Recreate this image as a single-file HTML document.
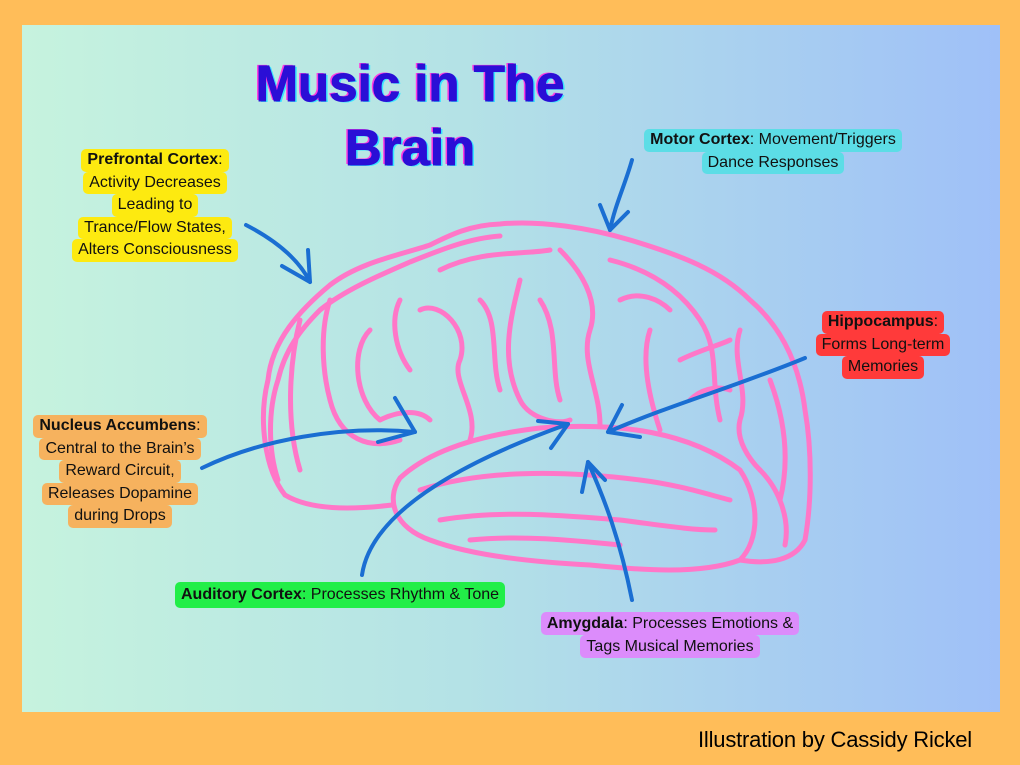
<!DOCTYPE html>
<html><head><meta charset="utf-8"><style>
html,body{margin:0;padding:0}
body{width:1020px;height:765px;background:#ffbd59;position:relative;overflow:hidden;font-family:"Liberation Sans",sans-serif}
#panel{position:absolute;left:22px;top:25px;width:978px;height:687px;background:linear-gradient(90deg,#c6f3de 0%,#b4e2e6 45%,#9fc0f8 100%)}
.t{position:absolute;font-weight:bold;font-size:51px;color:#2a0fd6;text-shadow:-2px -1px 0 #ff3de0,2px 1px 0 #39e6ff;text-align:center;line-height:64px;-webkit-text-stroke:1px #2a0fd6}
.lab{position:absolute;text-align:center;font-size:16px;line-height:22.5px;color:#111}
.lab span{display:inline-block;padding:0 6px;border-radius:5px}
.cr{position:absolute;left:698px;top:727px;font-size:22px;color:#000;letter-spacing:-0.2px}
</style></head><body>
<div id="panel"></div>
<div class="t" style="left:220px;top:52px;width:380px">Music in The<br>Brain</div>
<svg width="1020" height="765" style="position:absolute;left:0;top:0">
<g fill="none" stroke="#ff77c8" stroke-width="5" stroke-linecap="round" stroke-linejoin="round">
<path d="M285,495 C265,470 258,420 268,380 C272,340 300,310 330,285 C360,262 400,255 430,245 C450,235 470,225 500,224 C540,220 590,228 630,240 C680,255 720,270 750,300 C785,330 800,370 805,410 C812,450 812,500 805,540 C795,560 770,565 740,560"/>
<path d="M278,480 C268,450 268,410 278,380 C285,350 300,330 320,310 C345,290 380,275 410,262 C440,250 470,238 500,236"/>
<path d="M400,478 C430,450 480,435 540,428 C620,422 690,432 740,470 C760,500 760,540 740,560 C700,575 640,570 590,565 C530,562 470,555 430,540 C395,528 385,500 400,478 Z"/>
<path d="M285,495 C310,510 350,510 392,505"/>
<path d="M300,320 C290,360 285,420 300,470"/>
<path d="M330,300 C320,330 322,370 330,400 C340,440 370,450 400,440"/>
<path d="M370,330 C350,350 355,400 380,420 C400,410 420,410 430,420"/>
<path d="M420,310 C440,300 470,330 460,360 C450,380 480,410 470,440"/>
<path d="M440,270 C480,250 520,255 550,250"/>
<path d="M400,300 C390,320 395,350 410,370"/>
<path d="M520,280 C510,320 500,360 520,400 C530,420 560,425 570,420"/>
<path d="M480,300 C500,320 490,360 500,390"/>
<path d="M560,250 C580,270 600,300 590,330 C580,360 600,390 600,425"/>
<path d="M540,300 C560,330 550,370 560,400"/>
<path d="M610,260 C650,270 680,290 700,320 C720,350 710,380 720,420"/>
<path d="M650,330 C640,360 650,400 660,430"/>
<path d="M620,300 C640,290 660,300 670,310"/>
<path d="M740,330 C730,360 750,390 740,420 C735,440 750,460 760,470"/>
<path d="M680,360 C700,350 720,345 730,340"/>
<path d="M690,400 C700,390 715,385 730,390"/>
<path d="M420,490 C480,470 560,470 640,480 C680,485 710,495 730,500"/>
<path d="M440,520 C500,510 560,515 620,520 C660,525 690,530 715,530"/>
<path d="M470,540 C520,535 570,540 620,545"/>
<path d="M760,470 C780,490 790,520 785,545"/>
<path d="M770,380 C785,420 790,460 780,500"/>
</g>
<g fill="none" stroke="#1a6ed2" stroke-width="4" stroke-linecap="round" stroke-linejoin="round">
<path d="M246,225 C275,240 298,258 310,282"/><path d="M282,266 L310,282 L308,250"/>
<path d="M632,160 C625,185 615,205 610,230"/><path d="M600,205 L610,230 L628,212"/>
<path d="M805,358 C740,385 670,405 608,432"/><path d="M622,405 L608,432 L640,437"/>
<path d="M202,468 C260,440 340,425 415,432"/><path d="M395,398 L415,432 L378,442"/>
<path d="M362,575 C370,520 440,470 568,424"/><path d="M538,421 L568,424 L551,448"/>
<path d="M632,600 C620,540 605,500 588,462"/><path d="M582,492 L588,462 L605,480"/>
</g>
</svg>
<div class="lab" style="left:45px;top:149px;width:220px">
<span style="background:#fdea10"><b>Prefrontal Cortex</b>:</span><br><span style="background:#fdea10">Activity Decreases</span><br><span style="background:#fdea10">Leading to</span><br><span style="background:#fdea10">Trance/Flow States,</span><br><span style="background:#fdea10">Alters Consciousness</span></div>
<div class="lab" style="left:583px;top:129px;width:380px">
<span style="background:#5cdde6"><b>Motor Cortex</b>: Movement/Triggers</span><br><span style="background:#5cdde6">Dance Responses</span></div>
<div class="lab" style="left:788px;top:311px;width:190px">
<span style="background:#ff3a3a"><b>Hippocampus</b>:</span><br><span style="background:#ff3a3a">Forms Long-term</span><br><span style="background:#ff3a3a">Memories</span></div>
<div class="lab" style="left:10px;top:415px;width:220px">
<span style="background:#f6b25e"><b>Nucleus Accumbens</b>:</span><br><span style="background:#f6b25e">Central to the Brain’s</span><br><span style="background:#f6b25e">Reward Circuit,</span><br><span style="background:#f6b25e">Releases Dopamine</span><br><span style="background:#f6b25e">during Drops</span></div>
<div class="lab" style="left:130px;top:582px;width:420px;line-height:26px">
<span style="background:#22ee48"><b>Auditory Cortex</b>: Processes Rhythm &amp; Tone</span></div>
<div class="lab" style="left:500px;top:612px;width:340px;line-height:23px">
<span style="background:#dc8cfb"><b>Amygdala</b>: Processes Emotions &amp;</span><br><span style="background:#dc8cfb">Tags Musical Memories</span></div>
<div class="cr">Illustration by Cassidy Rickel</div>
</body></html>
